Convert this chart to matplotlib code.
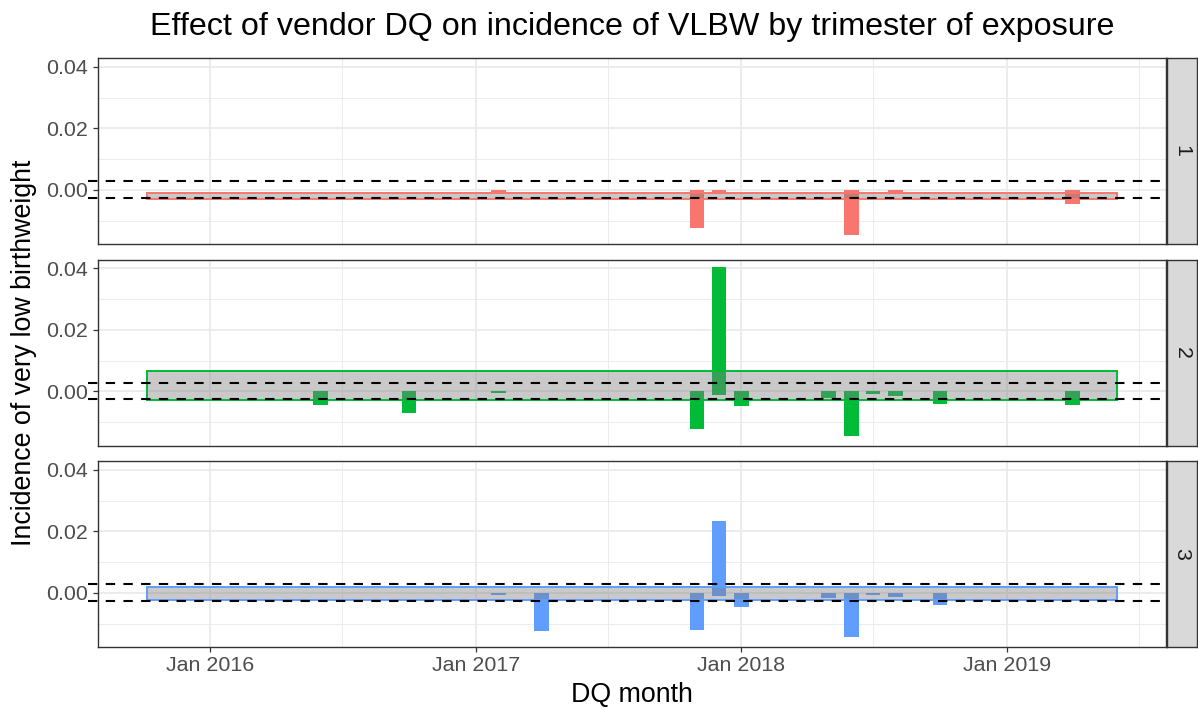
import matplotlib
matplotlib.use("Agg")
import matplotlib.pyplot as plt
import matplotlib.dates as mdates
from matplotlib.patches import Rectangle
import numpy as np
import datetime as dt

plt.rcParams['font.family'] = ['Liberation Sans', 'DejaVu Sans']

# ---------------- data ----------------
title = "Effect of vendor DQ on incidence of VLBW by trimester of exposure"
x_label = "DQ month"
y_label = "Incidence of very low birthweight"
trimesters = ["1", "2", "3"]
colors = ["#F8766D", "#00BA38", "#619CFF"]

# bars: (month, value) per trimester; same month may appear twice (stacked +/-)
t1_months = ["2017-02", "2017-11", "2017-12", "2018-06", "2018-08", "2019-04"]
t1_values = [-0.0007, -0.0125, -0.0013, -0.0147, -0.0012, -0.0045]

t2_months = ["2016-06", "2016-10", "2017-02", "2017-11", "2017-12", "2017-12",
             "2018-01", "2018-05", "2018-06", "2018-07", "2018-08", "2018-10", "2019-04"]
t2_values = [-0.0044, -0.0071, -0.0005, -0.0123, 0.0404, -0.0012,
             -0.0048, -0.0022, -0.0146, -0.0009, -0.0014, -0.0041, -0.0043]

t3_months = ["2017-02", "2017-04", "2017-11", "2017-12", "2017-12", "2018-01",
             "2018-05", "2018-06", "2018-07", "2018-08", "2018-10"]
t3_values = [-0.0005, -0.0124, -0.0121, 0.0233, -0.0010, -0.0045,
             -0.0015, -0.0142, -0.0008, -0.0014, -0.0040]

# confidence band per trimester
band_start = "2015-10-06"
band_end = "2019-06-02"
band_low = [-0.0028, -0.0027, -0.0023]
band_high = [-0.0011, 0.0065, 0.0020]

# reference dashed lines
ref_lines = [0.0029, -0.0025]

y_breaks = [0.00, 0.02, 0.04]
y_break_labels = ["0.00", "0.02", "0.04"]
y_minor = [-0.01, 0.01, 0.03]
x_breaks = ["2016-01-01", "2017-01-01", "2018-01-01", "2019-01-01"]
x_break_labels = ["Jan 2016", "Jan 2017", "Jan 2018", "Jan 2019"]
x_minor = ["2015-07-01", "2016-07-01", "2017-07-01", "2018-07-01", "2019-07-01"]

all_months = [t1_months, t2_months, t3_months]
all_values = [t1_values, t2_values, t3_values]

# ---------------- layout ----------------
W, H = 1198, 710
fig = plt.figure(figsize=(W / 100, H / 100), dpi=100)


def px_axes(x0, y0, x1, y1):
    return fig.add_axes([x0 / W, 1 - y1 / H, (x1 - x0) / W, (y1 - y0) / H])


def d(s):
    if len(s) == 7:
        s = s + "-01"
    return mdates.date2num(dt.datetime.strptime(s, "%Y-%m-%d"))


px0, px1 = 98, 1166
tops = [58, 259.5, 461]
ph = 186
ylim = (-0.01756, 0.0429)

b0, b1 = d(band_start), d(band_end)
span = b1 - b0
xlim = (b0 - 0.05 * span, b1 + 0.05 * span)

grid_c = "#EBEBEB"
border_c = "#333333"
tick_c = "#4D4D4D"
tick_fs = 15.4
axis_fs = 19.3
title_fs = 23.2

for i in range(3):
    top = tops[i]
    ax = px_axes(px0, top, px1, top + ph)
    ax.set_xlim(*xlim)
    ax.set_ylim(*ylim)
    ax.set_facecolor("white")

    # grid
    for yb in y_breaks:
        ax.axhline(yb, color=grid_c, lw=1.3, zorder=0)
    for ym in y_minor:
        ax.axhline(ym, color=grid_c, lw=0.65, zorder=0)
    for xb in x_breaks:
        ax.axvline(d(xb), color=grid_c, lw=1.3, zorder=0)
    for xm in x_minor:
        ax.axvline(d(xm), color=grid_c, lw=0.65, zorder=0)

    # stacked bars
    months = all_months[i]
    vals = all_values[i]
    pos_acc = {}
    neg_acc = {}
    xs, bottoms, heights = [], [], []
    for m, v in zip(months, vals):
        x = d(m)
        if v >= 0:
            b = pos_acc.get(m, 0.0)
            pos_acc[m] = b + v
        else:
            b = neg_acc.get(m, 0.0)
            neg_acc[m] = b + v
        xs.append(x)
        bottoms.append(b)
        heights.append(v)
    ax.bar(xs, heights, bottom=bottoms, width=20, color=colors[i],
           edgecolor="none", zorder=2, align="center")

    # band
    rect = Rectangle((b0, band_low[i]), b1 - b0, band_high[i] - band_low[i],
                     facecolor=(0.5, 0.5, 0.5, 0.42), edgecolor=colors[i],
                     lw=1.4, zorder=3)
    ax.add_patch(rect)

    # dashed reference lines (extend a bit past left border)
    trans = ax.get_yaxis_transform()
    for rl in ref_lines:
        ax.plot([-0.0095, 1.0], [rl, rl], transform=trans, color="black",
                lw=1.5, linestyle=(0, (4.5, 4.0)), zorder=4, clip_on=False)

    # axes styling
    for sp in ax.spines.values():
        sp.set_color(border_c)
        sp.set_linewidth(1.0)
        sp.set_zorder(5)
    ax.set_yticks(y_breaks)
    ax.set_yticklabels(y_break_labels)
    ax.tick_params(axis="y", length=3.3, width=0.9, color=border_c,
                   labelsize=tick_fs, labelcolor=tick_c, pad=3.8)
    ax.set_xticks([d(x) for x in x_breaks])
    if i == 2:
        ax.set_xticklabels(x_break_labels)
        ax.tick_params(axis="x", length=3.3, width=0.9, color=border_c,
                       labelsize=tick_fs, labelcolor=tick_c, pad=3.0)
    else:
        ax.tick_params(axis="x", length=0, labelbottom=False)
    ax.minorticks_off()

    # strip
    sax = px_axes(1167, top, 1197, top + ph)
    sax.set_facecolor("#D9D9D9")
    sax.set_xticks([])
    sax.set_yticks([])
    for sp in sax.spines.values():
        sp.set_color(border_c)
        sp.set_linewidth(1.0)
    sax.text(0.5, 0.5, trimesters[i], rotation=270, ha="center", va="center",
             fontsize=tick_fs, color="#1A1A1A", transform=sax.transAxes)

# titles
fig.text((px0 + px1) / 2 / W, 1 - 27 / H, title, ha="center", va="center",
         fontsize=title_fs, color="black")
fig.text((px0 + px1) / 2 / W, 1 - 695 / H, x_label, ha="center", va="center",
         fontsize=axis_fs, color="black")
fig.text(24 / W, 1 - 352.5 / H, y_label, ha="center", va="center",
         rotation=90, fontsize=axis_fs, color="black")

fig.savefig("out.png", dpi=100, facecolor="white")
